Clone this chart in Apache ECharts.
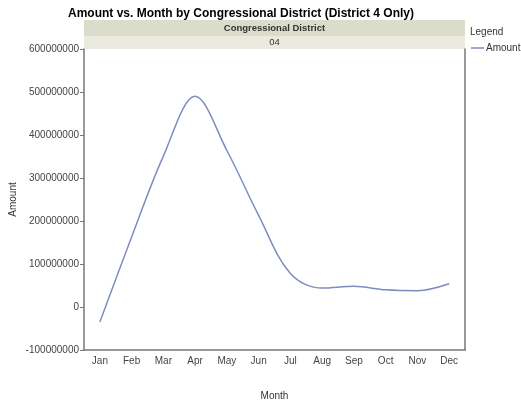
<!DOCTYPE html>
<html>
<head>
<meta charset="utf-8">
<script src="https://cdn.jsdelivr.net/npm/echarts@6/dist/echarts.min.js"></script>
<style>html,body{margin:0;padding:0;background:#fff;}#c{width:521px;height:408px;}</style>
</head>
<body>
<div id="c"></div>
<script>
const months = ['Jan','Feb','Mar','Apr','May','Jun','Jul','Aug','Sep','Oct','Nov','Dec'];
const amount = [-35000000, 163000000, 351000000, 490000000, 364000000, 213000000, 78000000, 44000000, 48000000, 40000000, 38000000, 54000000];
const yTicks = {min: -100000000, max: 600000000, interval: 100000000};
const titleText = 'Amount vs. Month by Congressional District (District 4 Only)';
const panelHeader = 'Congressional District';
const panelValue = '04';

const font = '"Liberation Sans", Arial, sans-serif';
const chart = echarts.init(document.getElementById('c'), null, {renderer: 'canvas'});
const L = 84, R = 56, T = 49, B = 58;
chart.setOption({
  animation: false,
  backgroundColor: '#fff',
  title: {text: titleText, left: 63, top: 3,
    textStyle: {fontFamily: font, fontSize: 12, fontWeight: 'bold', color: '#000'}},
  legend: {show: false},
  grid: {left: L, right: R, top: T, bottom: B, containLabel: false, outerBoundsMode: 'none'},
  graphic: [
    {type: 'rect', shape: {x: L, y: 20, width: 521 - L - R, height: 16}, style: {fill: '#dcdccb'}, silent: true},
    {type: 'rect', shape: {x: L, y: 36, width: 521 - L - R, height: 13}, style: {fill: '#eaeadf'}, silent: true},
    {type: 'text', x: L + (521 - L - R) / 2, y: 28, style: {text: panelHeader, fill: '#333', font: 'bold 9.5px ' + font, align: 'center', verticalAlign: 'middle'}},
    {type: 'text', x: L + (521 - L - R) / 2, y: 42, style: {text: panelValue, fill: '#333', font: '9.5px ' + font, align: 'center', verticalAlign: 'middle'}},
    {type: 'text', x: 470, y: 32, style: {text: 'Legend', fill: '#333', font: '10px ' + font, verticalAlign: 'middle'}},
    {type: 'line', shape: {x1: 471, y1: 48, x2: 484, y2: 48}, style: {stroke: '#7f8cbd', lineWidth: 1.5}},
    {type: 'text', x: 486, y: 48, style: {text: 'Amount', fill: '#333', font: '10px ' + font, verticalAlign: 'middle'}}
  ],
  xAxis: {
    type: 'category', data: months, boundaryGap: true,
    name: 'Month', nameLocation: 'middle', nameGap: 41,
    nameTextStyle: {fontFamily: font, fontSize: 10, color: '#333'},
    axisLine: {onZero: false, lineStyle: {color: '#777', width: 1.5}},
    axisTick: {alignWithLabel: true, length: 4, lineStyle: {color: '#777'}},
    axisLabel: {fontFamily: font, fontSize: 10, color: '#444', margin: 6},
    splitLine: {show: false}
  },
  yAxis: [{
    type: 'value', min: yTicks.min, max: yTicks.max, interval: yTicks.interval,
    name: 'Amount', nameLocation: 'middle', nameGap: 66, nameMoveOverlap: false,
    nameTextStyle: {fontFamily: font, fontSize: 10, color: '#333'},
    axisLine: {show: true, lineStyle: {color: '#777', width: 1.5}},
    axisTick: {show: true, length: 4, lineStyle: {color: '#777'}},
    axisLabel: {fontFamily: font, fontSize: 10, color: '#444', margin: 5, formatter: v => String(v)},
    splitLine: {show: false}
  }, {
    type: 'value', position: 'right', min: yTicks.min, max: yTicks.max, interval: yTicks.interval,
    axisLine: {show: true, lineStyle: {color: '#777', width: 1.5}},
    axisTick: {show: false}, axisLabel: {show: false}, splitLine: {show: false}
  }],
  series: [{
    name: 'Amount', type: 'line', data: amount, smooth: 0.35, showSymbol: false,
    lineStyle: {color: '#7f8cbd', width: 1.5}, itemStyle: {color: '#7f8cbd'}
  }]
});
</script>
</body>
</html>
